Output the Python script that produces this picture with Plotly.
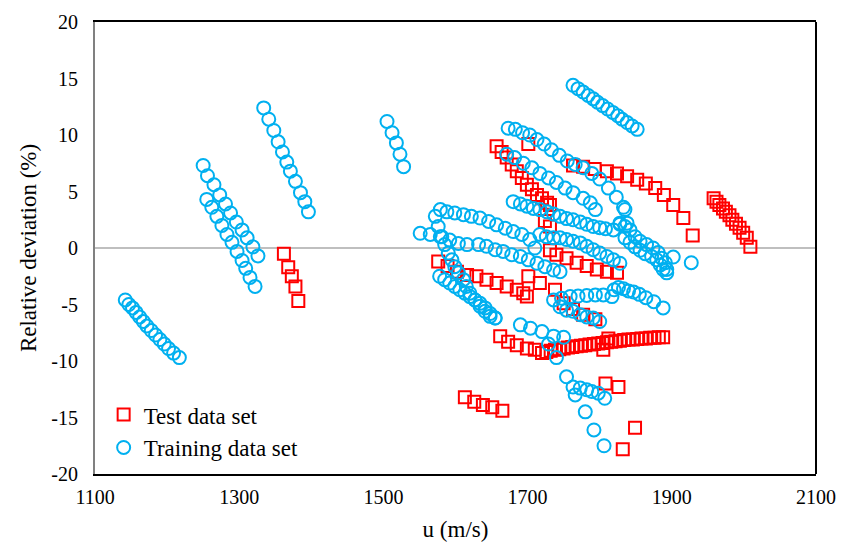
import plotly.graph_objects as go

# ---- Test data set (u in m/s, relative deviation in %) ----
te_a_u = [1362, 1368, 1373, 1378, 1382]
te_a_d = [-0.5, -1.7, -2.5, -3.4, -4.7]

te_b_u = [1657, 1664, 1671, 1678, 1685, 1692, 1699, 1706, 1713, 1720, 1727, 1731]
te_b_d = [9.0, 8.5, 8.0, 7.4, 6.8, 6.2, 5.6, 5.2, 4.7, 4.4, 4.0, 3.8]

te_c_u = [1701, 1724, 1731]
te_c_d = [9.2, 2.4, 1.9]

te_d_u = [1763, 1777, 1793, 1810, 1824, 1838, 1852, 1864, 1877, 1889, 1902, 1916, 1929]
te_d_d = [7.3, 7.2, 7.0, 6.8, 6.6, 6.35, 6.05, 5.7, 5.3, 4.7, 3.8, 2.65, 1.1]

te_e_u = [1958, 1962, 1966, 1971, 1975, 1980, 1984, 1989, 1994, 1999, 2004, 2009]
te_e_d = [4.4, 4.1, 3.8, 3.5, 3.2, 2.9, 2.5, 2.15, 1.8, 1.35, 0.9, 0.1]

te_f_u = [1576, 1589, 1602, 1616, 1629, 1643, 1657, 1671, 1685, 1694, 1699]
te_f_d = [-1.2, -1.6, -2.1, -2.4, -2.5, -2.8, -3.1, -3.4, -3.7, -4.0, -4.3]

te_g_u = [1701, 1717, 1738]
te_g_d = [-2.5, -3.1, -3.7]

te_h_u = [1731, 1740, 1754, 1768, 1782, 1796, 1810, 1824]
te_h_d = [-0.2, -0.6, -0.9, -1.3, -1.6, -1.9, -2.1, -2.2]

te_i_u = [1750, 1763, 1777, 1794]
te_i_d = [-4.9, -5.4, -5.9, -6.3]

te_j_u = [1662, 1673, 1685, 1699, 1710, 1720,
          1726, 1732, 1738, 1744, 1750, 1756, 1762, 1768, 1774, 1780,
          1786, 1792, 1798, 1804, 1810, 1816, 1822, 1828, 1834, 1840,
          1846, 1852, 1858, 1864, 1870, 1876, 1882, 1888]
te_j_d = [-7.8, -8.3, -8.6, -8.9, -9.0, -9.3,
          -9.2, -9.1, -9.0, -8.95, -8.9, -8.8, -8.75, -8.7, -8.65, -8.6,
          -8.55, -8.5, -8.45, -8.4, -8.35, -8.3, -8.25, -8.2, -8.15, -8.1,
          -8.1, -8.05, -8.0, -8.0, -7.95, -7.95, -7.9, -7.9]

te_k_u = [1805, 1812]
te_k_d = [-9.0, -8.0]

te_l_u = [1613, 1626, 1638, 1651, 1665]
te_l_d = [-13.2, -13.6, -13.9, -14.1, -14.4]

te_m_u = [1808, 1826, 1832, 1849]
te_m_d = [-12.0, -12.3, -17.8, -15.9]

# ---- Training data set ----
tr_a_u = [1142, 1147, 1152, 1157, 1162, 1167, 1172, 1178, 1184, 1190, 1196, 1202, 1209, 1217]
tr_a_d = [-4.6, -5.0, -5.3, -5.7, -6.1, -6.5, -6.9, -7.3, -7.7, -8.1, -8.5, -8.9, -9.3, -9.7]

tr_b_u = [1250, 1256, 1265, 1273, 1281, 1288, 1296, 1304, 1311, 1319, 1326]
tr_b_d = [7.3, 6.4, 5.6, 4.7, 3.9, 3.1, 2.3, 1.6, 0.9, 0.1, -0.7]

tr_c_u = [1255, 1262, 1269, 1276, 1283, 1290, 1297, 1304, 1309, 1315, 1322]
tr_c_d = [4.3, 3.6, 2.8, 2.0, 1.2, 0.5, -0.3, -1.1, -1.8, -2.6, -3.4]

tr_d_u = [1334, 1341, 1348, 1354, 1360, 1366, 1371, 1378, 1385, 1391, 1396]
tr_d_d = [12.4, 11.4, 10.4, 9.4, 8.5, 7.6, 6.8, 5.9, 4.9, 4.1, 3.2]

tr_e_u = [1505, 1512, 1518, 1523, 1528]
tr_e_d = [11.2, 10.2, 9.3, 8.3, 7.2]

tr_f_u = [1763, 1770, 1777, 1784, 1791, 1797, 1804, 1811, 1818, 1825, 1831, 1838, 1845, 1852]
tr_f_d = [14.4, 14.1, 13.8, 13.5, 13.2, 12.9, 12.6, 12.3, 12.0, 11.7, 11.4, 11.1, 10.8, 10.5]

tr_g_u = [1673, 1683, 1693, 1703, 1713, 1723, 1733, 1744, 1755, 1766, 1777, 1789, 1800, 1812, 1823, 1833]
tr_g_d = [10.6, 10.5, 10.2, 10.0, 9.6, 9.2, 8.7, 8.2, 7.7, 7.4, 7.1, 6.6, 6.1, 5.3, 4.5, 3.6]

tr_h_u = [1671, 1682, 1694, 1706, 1717, 1729, 1740, 1752, 1763, 1777, 1787, 1794]
tr_h_d = [8.3, 8.0, 7.5, 7.1, 6.6, 6.2, 5.8, 5.3, 4.9, 4.4, 4.0, 3.4]

tr_i_u = [1680, 1690, 1699, 1708, 1717, 1727, 1736, 1745, 1754, 1763, 1773, 1782, 1791, 1800, 1808, 1819]
tr_i_d = [4.1, 3.9, 3.7, 3.5, 3.4, 3.2, 3.0, 2.8, 2.6, 2.5, 2.3, 2.1, 1.9, 1.8, 1.7, 1.6]

tr_j_u = [1828, 1835, 1842, 1849, 1856, 1865, 1874, 1881, 1886, 1891, 1893]
tr_j_d = [2.2, 1.9, 1.6, 1.0, 0.6, 0.3, 0.0, -0.4, -0.9, -1.3, -1.9]

tr_k_u = [1835, 1842, 1849, 1856, 1863, 1872, 1879, 1884, 1888, 1893]
tr_k_d = [0.9, 0.5, 0.1, -0.2, -0.5, -0.75, -1.05, -1.5, -1.9, -2.2]

tr_l_u = [1902, 1927, 1828, 1835, 1838]
tr_l_d = [-0.8, -1.3, 2.1, 3.4, 2.2]

tr_m_u = [1579, 1588, 1599, 1611, 1622, 1634, 1646, 1657, 1669, 1680, 1692, 1703, 1710]
tr_m_d = [3.4, 3.2, 3.1, 2.95, 2.8, 2.65, 2.35, 2.05, 1.75, 1.45, 1.2, 0.75, 0.0]

tr_n_u = [1551, 1565, 1579, 1592, 1604, 1616, 1632, 1643, 1655, 1666, 1678, 1690, 1701, 1713, 1724, 1736, 1745]
tr_n_d = [1.3, 1.2, 1.0, 0.7, 0.4, 0.3, 0.3, 0.15, -0.15, -0.3, -0.6, -0.75, -1.05, -1.35, -1.65, -1.95, -2.1]

tr_o_u = [1572, 1576, 1581, 1585, 1590, 1595, 1599, 1604, 1611, 1615, 1620, 1627, 1634, 1641, 1648, 1655]
tr_o_d = [2.8, 1.9, 1.0, 0.3, -0.45, -1.05, -1.65, -2.2, -2.8, -3.4, -4.0, -4.6, -5.15, -5.6, -6.05, -6.2]

tr_p_u = [1578, 1585, 1592, 1599, 1606, 1613, 1620, 1627, 1634, 1641, 1648, 1655]
tr_p_d = [-2.5, -2.8, -3.1, -3.4, -3.7, -4.0, -4.3, -4.6, -4.9, -5.3, -5.8, -6.2]

tr_q_u = [1717, 1726, 1736, 1745, 1754, 1763, 1773, 1782, 1791, 1800, 1810, 1819, 1828]
tr_q_d = [1.2, 1.0, 0.9, 0.9, 0.75, 0.6, 0.45, 0.15, -0.15, -0.45, -0.75, -1.05, -1.35]

tr_r_u = [1736, 1747, 1759, 1770, 1782, 1794, 1805, 1817]
tr_r_d = [-4.6, -4.45, -4.3, -4.25, -4.2, -4.15, -4.15, -4.3]

tr_s_u = [1820, 1826, 1833, 1840, 1847, 1855, 1864, 1875, 1888]
tr_s_d = [-3.7, -3.5, -3.6, -3.8, -3.9, -4.1, -4.4, -4.75, -5.3]

tr_t_u = [1745, 1754, 1763, 1773, 1782, 1791, 1800]
tr_t_d = [-5.2, -5.5, -5.6, -5.9, -6.1, -6.2, -6.5]

tr_u_u = [1690, 1704, 1720, 1736, 1750]
tr_u_d = [-6.8, -7.1, -7.4, -7.8, -7.9]

tr_v_u = [1729, 1740, 1754, 1766, 1780, 1792, 1806]
tr_v_d = [-8.5, -9.7, -11.4, -13.0, -14.5, -16.1, -17.5]

tr_w_u = [1763, 1773, 1782, 1789, 1798, 1807]
tr_w_d = [-12.3, -12.4, -12.55, -12.7, -12.85, -13.3]

# axis tick values and their labels (plain hyphen for negatives)
x_ticks = [1100, 1300, 1500, 1700, 1900, 2100]
x_tick_text = ["1100", "1300", "1500", "1700", "1900", "2100"]
y_ticks = [-20, -15, -10, -5, 0, 5, 10, 15, 20]
y_tick_text = ["-20", "-15", "-10", "-5", "0", "5", "10", "15", "20"]

test_runs = [(te_a_u, te_a_d), (te_b_u, te_b_d), (te_c_u, te_c_d), (te_d_u, te_d_d),
             (te_e_u, te_e_d), (te_f_u, te_f_d), (te_g_u, te_g_d), (te_h_u, te_h_d),
             (te_i_u, te_i_d), (te_j_u, te_j_d), (te_k_u, te_k_d), (te_l_u, te_l_d),
             (te_m_u, te_m_d)]
train_runs = [(tr_a_u, tr_a_d), (tr_b_u, tr_b_d), (tr_c_u, tr_c_d), (tr_d_u, tr_d_d),
              (tr_e_u, tr_e_d), (tr_f_u, tr_f_d), (tr_g_u, tr_g_d), (tr_h_u, tr_h_d),
              (tr_i_u, tr_i_d), (tr_j_u, tr_j_d), (tr_k_u, tr_k_d), (tr_l_u, tr_l_d),
              (tr_m_u, tr_m_d), (tr_n_u, tr_n_d), (tr_o_u, tr_o_d), (tr_p_u, tr_p_d),
              (tr_q_u, tr_q_d), (tr_r_u, tr_r_d), (tr_s_u, tr_s_d), (tr_t_u, tr_t_d),
              (tr_u_u, tr_u_d), (tr_v_u, tr_v_d), (tr_w_u, tr_w_d)]


def flatten(runs):
    us, ds = [], []
    for u, d in runs:
        us += u
        ds += d
    return us, ds


test_u, test_d = flatten(test_runs)
train_u, train_d = flatten(train_runs)

FONT = "Liberation Serif, Times New Roman, serif"
RED = "#FF0000"
BLUE = "#00B0F0"

fig = go.Figure()
fig.add_trace(go.Scatter(
    x=test_u, y=test_d, mode="markers", name="Test data set",
    marker=dict(symbol="square-open", size=12, color=RED, line=dict(width=2, color=RED)),
))
fig.add_trace(go.Scatter(
    x=train_u, y=train_d, mode="markers", name="Training data set",
    marker=dict(symbol="circle-open", size=13, color=BLUE, line=dict(width=2, color=BLUE)),
))

fig.update_layout(
    width=842, height=548,
    margin=dict(l=95, r=26, t=22, b=74),
    paper_bgcolor="white", plot_bgcolor="white",
    font=dict(family=FONT, size=20, color="black"),
    showlegend=True,
    legend=dict(x=0.012, y=0.179, xanchor="left", yanchor="top",
                bgcolor="rgba(0,0,0,0)", font=dict(family=FONT, size=23),
                tracegroupgap=0, itemwidth=30),
    xaxis=dict(range=[1100, 2100], tickvals=x_ticks, ticktext=x_tick_text,
               showgrid=False, zeroline=False, showline=True, linecolor="black",
               linewidth=2, mirror=True, ticks="", ticklabelstandoff=4,
               automargin=False, tickfont=dict(family=FONT, size=20),
               title=dict(text="u (m/s)", font=dict(family=FONT, size=23), standoff=14)),
    yaxis=dict(range=[-20, 20], tickvals=y_ticks, ticktext=y_tick_text, showgrid=False,
               zeroline=True, zerolinecolor="#BFBFBF", zerolinewidth=2,
               showline=True, linecolor="#808080", linewidth=2, ticks="",
               ticklabelstandoff=11, automargin=False, tickfont=dict(family=FONT, size=20),
               title=dict(text="Relative deviation (%)", font=dict(family=FONT, size=23), standoff=8)),
)

# right border of the plotting area
fig.add_shape(type="line", xref="paper", yref="paper", x0=1, x1=1, y0=0, y1=1,
              line=dict(color="black", width=2))

fig.write_html("out.html")
